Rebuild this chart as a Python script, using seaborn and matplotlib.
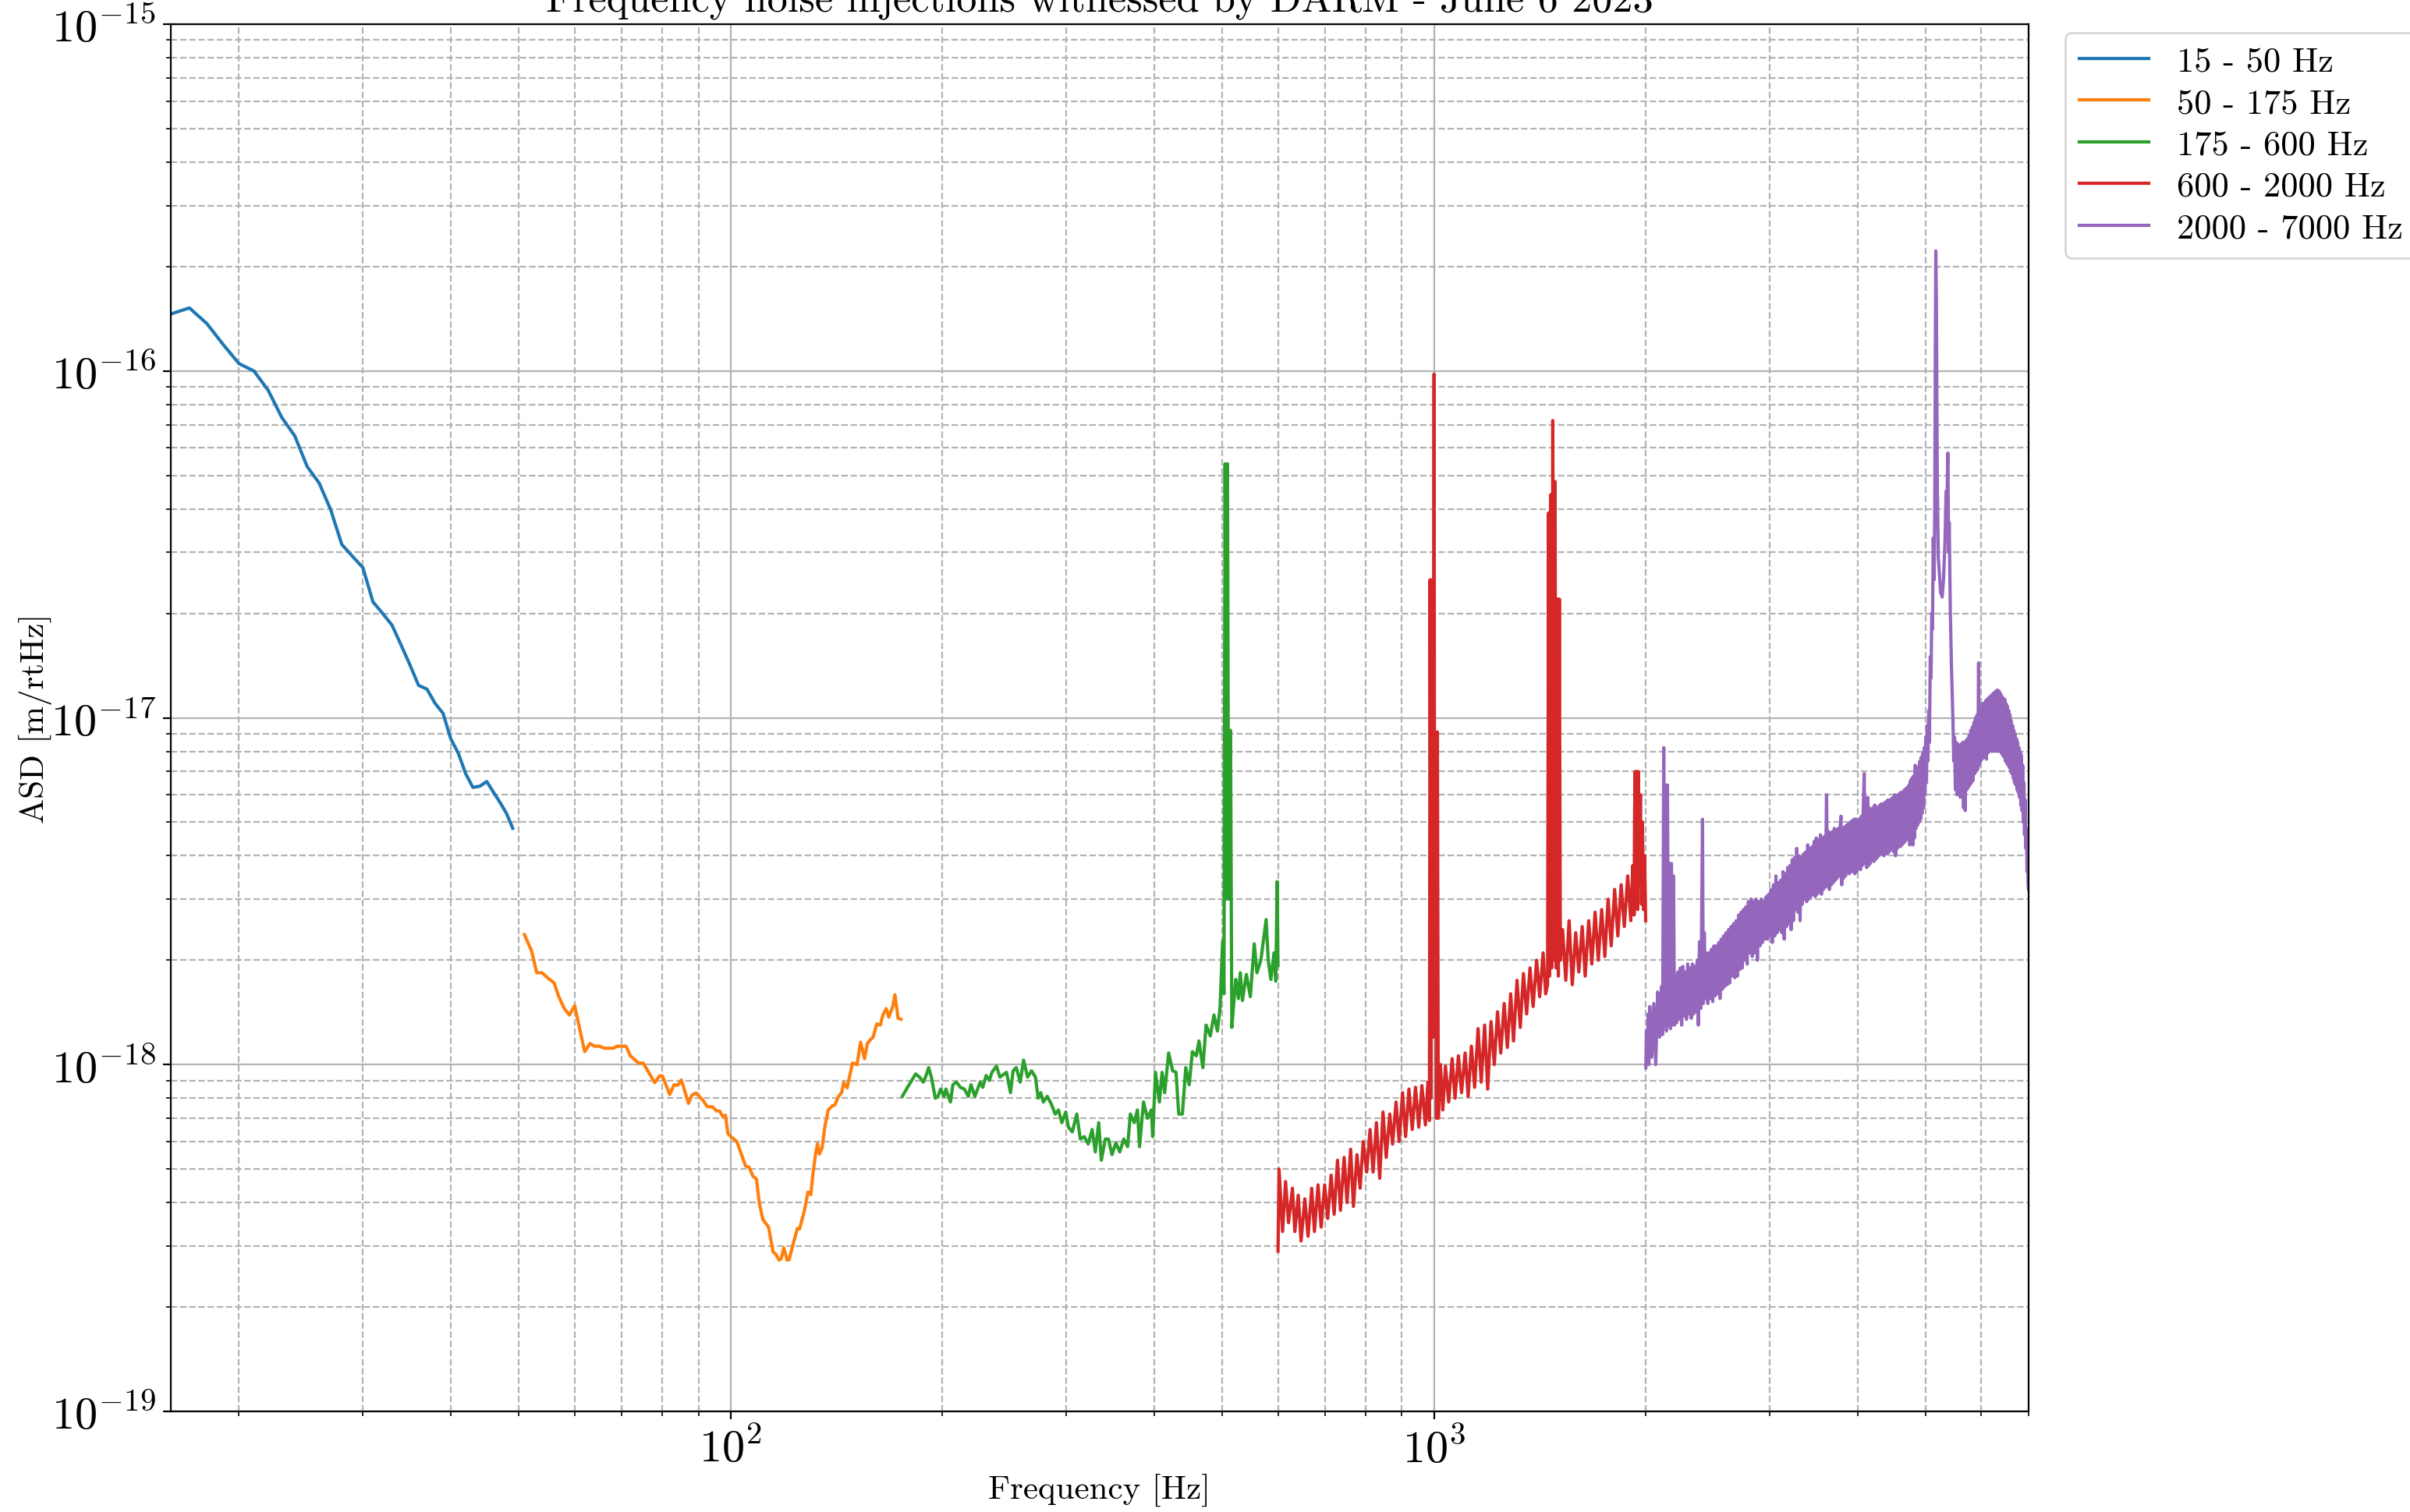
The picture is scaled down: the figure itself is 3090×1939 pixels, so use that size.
import pandas as pd
import seaborn as sns
import matplotlib.pyplot as plt

# === data ===
band_labels = ["15 - 50 Hz", "50 - 175 Hz", "175 - 600 Hz", "600 - 2000 Hz", "2000 - 7000 Hz"]

f_15_50 = [16, 17, 18, 19, 20, 21, 22, 23, 24, 25, 26, 27, 28, 29, 30, 31, 32,
           33, 34, 35, 36, 37, 38, 39, 40, 41, 42, 43, 44, 45, 46, 47, 48, 49]
asd_15_50 = [1.46e-16, 1.52e-16, 1.37e-16, 1.19e-16, 1.05e-16, 1.00e-16, 8.8e-17,
             7.35e-17, 6.5e-17, 5.3e-17, 4.75e-17, 3.98e-17, 3.16e-17, 2.92e-17,
             2.71e-17, 2.16e-17, 2.0e-17, 1.85e-17, 1.62e-17, 1.42e-17, 1.24e-17,
             1.21e-17, 1.1e-17, 1.03e-17, 8.7e-18, 7.9e-18, 6.9e-18, 6.3e-18,
             6.35e-18, 6.55e-18, 6.1e-18, 5.7e-18, 5.3e-18, 4.8e-18]

f_50_175 = [50.9, 52.1, 53.0, 53.9, 55.1, 56.1, 56.9, 58.0, 59.0, 60.0, 62.0, 63.1,
            64.0, 65.1, 66.1, 68.1, 69.0, 71.0, 72.0, 74.0, 75.1, 78.0, 79.2, 80.0,
            81.9, 83.1, 84.1, 85.1, 87.1, 88.1, 89.3, 91.4, 92.6, 94.3, 95.4, 96.5,
            97.4, 98.3, 99.1, 100.3, 102.0, 105.0, 106.2, 107.6, 108.8, 109.8, 111.1,
            112.1, 113.2, 114.9, 115.9, 117.2, 118.0, 119.0, 120.3, 121.1, 122.7,
            124.4, 125.3, 127.2, 128.8, 130.0, 130.9, 132.1, 132.9, 133.7, 134.9,
            136.1, 137.6, 139.5, 140.7, 142.2, 143.8, 144.8, 146.4, 149.0, 151.2,
            153.0, 155.0, 156.4, 158.0, 159.4, 161.3, 163.2, 164.6, 166.4, 167.8,
            170.0, 171.2, 173.0, 174.6]
asd_50_175 = [2.37e-18, 2.13e-18, 1.84e-18, 1.84e-18, 1.77e-18, 1.72e-18, 1.58e-18,
              1.45e-18, 1.39e-18, 1.48e-18, 1.09e-18, 1.15e-18, 1.13e-18, 1.13e-18,
              1.115e-18, 1.115e-18, 1.13e-18, 1.13e-18, 1.06e-18, 1.01e-18, 1.01e-18,
              8.87e-19, 9.27e-19, 9.27e-19, 8.2e-19, 8.75e-19, 8.72e-19, 9.03e-19,
              7.73e-19, 8.17e-19, 8.28e-19, 7.87e-19, 7.57e-19, 7.55e-19, 7.36e-19,
              7.34e-19, 7.09e-19, 7.15e-19, 6.33e-19, 6.17e-19, 6.01e-19, 5.1e-19,
              5.06e-19, 4.76e-19, 4.68e-19, 4.0e-19, 3.58e-19, 3.49e-19, 3.4e-19,
              2.88e-19, 2.84e-19, 2.73e-19, 2.76e-19, 2.96e-19, 2.73e-19, 2.74e-19,
              3.04e-19, 3.37e-19, 3.36e-19, 3.77e-19, 4.29e-19, 4.22e-19, 4.84e-19,
              5.56e-19, 5.91e-19, 5.52e-19, 5.76e-19, 6.61e-19, 7.4e-19, 7.6e-19,
              7.66e-19, 8.07e-19, 8.31e-19, 8.87e-19, 8.57e-19, 1.01e-18, 1.0e-18,
              1.16e-18, 1.04e-18, 1.15e-18, 1.18e-18, 1.2e-18, 1.31e-18, 1.3e-18,
              1.39e-18, 1.45e-18, 1.37e-18, 1.47e-18, 1.59e-18, 1.36e-18, 1.35e-18]

f_175_600 = [175.4, 178.4, 180.3, 183.2, 185.6, 187.9, 189.2, 191.2, 192.9, 195.4,
             197.1, 198.8, 201.1, 202.3, 204.0, 205.3, 207.0, 209.4, 212.1, 214.9,
             217.7, 219.6, 222.4, 226.3, 228.2, 230.8, 233.2, 235.2, 238.7, 241.4,
             246.7, 249.9, 252.1, 254.7, 258.0, 260.9, 264.3, 267.7, 271.2, 273.6,
             275.9, 278.3, 281.9, 285.6, 289.3, 292.4, 295.7, 299.5, 302.1, 306.0,
             310.5, 314.1, 318.2, 322.3, 326.5, 329.9, 333.6, 336.5, 340.9, 344.4,
             348.4, 352.9, 357.4, 362.1, 366.7, 370.0, 374.8, 378.7, 381.3, 386.3,
             391.3, 396.4, 398.1, 401.7, 406.9, 410.5, 414.0, 419.4, 424.9, 429.7,
             433.5, 438.7, 443.6, 448.6, 453.3, 459.2, 463.2, 469.2, 474.1, 480.7,
             486.5, 492.0, 496.3, 500.5, 502.7, 504.5, 506.5, 508.5, 510.5, 513.6,
             515.8, 520.3, 522.5, 527.0, 530.3, 534.0, 540.9, 548.0, 555.1, 560.0,
             567.2, 577.1, 581.1, 586.1, 592.2, 595.7, 598.3, 599.9]
asd_175_600 = [8.1e-19, 8.6e-19, 8.9e-19, 9.4e-19, 9.2e-19, 8.9e-19, 9.2e-19, 9.8e-19,
               9.2e-19, 8.0e-19, 8.1e-19, 8.5e-19, 8.1e-19, 8.5e-19, 8.1e-19, 7.8e-19,
               8.75e-19, 8.9e-19, 8.6e-19, 8.5e-19, 8.1e-19, 8.75e-19, 8.1e-19, 8.9e-19,
               8.6e-19, 9.3e-19, 9.0e-19, 9.5e-19, 9.9e-19, 9.2e-19, 9.5e-19, 8.3e-19,
               9.6e-19, 9.8e-19, 8.9e-19, 1.03e-18, 9.2e-19, 9.6e-19, 9.2e-19, 8.0e-19,
               8.3e-19, 7.8e-19, 8.1e-19, 7.7e-19, 7.2e-19, 7.4e-19, 6.8e-19, 7.3e-19,
               6.6e-19, 6.4e-19, 7.2e-19, 6.1e-19, 6.2e-19, 5.9e-19, 6.5e-19, 5.6e-19,
               6.8e-19, 5.3e-19, 6.1e-19, 6.1e-19, 5.5e-19, 5.95e-19, 5.6e-19, 6.1e-19,
               5.8e-19, 7.2e-19, 6.8e-19, 7.4e-19, 5.8e-19, 7.8e-19, 7.0e-19, 7.4e-19,
               6.2e-19, 9.5e-19, 7.8e-19, 9.5e-19, 8.3e-19, 1.08e-18, 9.6e-19, 9.5e-19,
               7.2e-19, 7.2e-19, 9.8e-19, 8.75e-19, 1.09e-18, 1.06e-18, 1.17e-18,
               9.8e-19, 1.3e-18, 1.21e-18, 1.39e-18, 1.25e-18, 1.46e-18, 2.27e-18,
               1.6e-18, 5.4e-17, 3.0e-18, 5.4e-17, 3.0e-18, 9.2e-18, 1.28e-18, 1.6e-18,
               1.76e-18, 1.55e-18, 1.84e-18, 1.53e-18, 1.82e-18, 1.57e-18, 2.23e-18,
               1.84e-18, 2.0e-18, 2.62e-18, 2.0e-18, 1.76e-18, 2.1e-18, 1.74e-18,
               3.37e-18, 1.93e-18]

f_600_2000 = [600, 602, 609, 615, 621, 629, 634, 641, 647, 655, 662, 670, 676, 684, 691,
              699, 706, 714, 721, 729, 736, 745, 752, 761, 768, 777, 785, 793, 802, 811,
              819, 828, 837, 846, 855, 865, 873, 883, 892, 902, 911, 921, 931, 941, 951,
              961, 972, 980, 985, 987, 990, 994, 997, 1000, 1002, 1005, 1008, 1011, 1014,
              1021, 1029, 1038, 1049, 1061, 1071, 1083, 1094, 1107, 1118, 1130, 1142,
              1155, 1167, 1180, 1192, 1205, 1218, 1231, 1244, 1258, 1271, 1285, 1297,
              1312, 1326, 1340, 1354, 1369, 1383, 1399, 1413, 1429, 1441, 1450, 1455,
              1460, 1466, 1470, 1475, 1480, 1486, 1491, 1497, 1502, 1507, 1512, 1523,
              1539, 1556, 1572, 1590, 1606, 1624, 1640, 1659, 1676, 1694, 1712, 1731,
              1749, 1768, 1786, 1806, 1825, 1845, 1864, 1885, 1904, 1917, 1925, 1928,
              1932, 1937, 1942, 1947, 1952, 1958, 1965, 1972, 1978, 1985, 1992, 1999]
asd_600_2000 = [2.9e-19, 5.0e-19, 3.3e-19, 4.6e-19, 3.5e-19, 4.4e-19, 3.3e-19, 4.2e-19,
                3.1e-19, 4.1e-19, 3.2e-19, 4.4e-19, 3.3e-19, 4.5e-19, 3.4e-19, 4.5e-19,
                3.6e-19, 4.8e-19, 3.7e-19, 5.3e-19, 3.8e-19, 5.4e-19, 4.0e-19, 5.7e-19,
                3.9e-19, 5.5e-19, 4.4e-19, 6.0e-19, 4.9e-19, 6.5e-19, 4.9e-19, 6.8e-19,
                4.7e-19, 7.3e-19, 5.4e-19, 7.2e-19, 5.9e-19, 7.8e-19, 6.0e-19, 8.3e-19,
                6.2e-19, 8.5e-19, 6.5e-19, 8.6e-19, 6.6e-19, 8.7e-19, 6.7e-19, 8.9e-19,
                6.9e-19, 2.5e-17, 8.0e-19, 2.5e-17, 1.2e-18, 9.8e-17, 1.4e-18, 9.1e-18,
                7.0e-19, 9.1e-18, 7.0e-19, 1.0e-18, 7.4e-19, 9.9e-19, 7.8e-19, 1.04e-18,
                8.0e-19, 1.06e-18, 8.3e-19, 1.08e-18, 8.1e-19, 1.13e-18, 8.6e-19,
                1.27e-18, 8.9e-19, 1.3e-18, 8.5e-19, 1.33e-18, 1.0e-18, 1.42e-18,
                1.08e-18, 1.5e-18, 1.12e-18, 1.6e-18, 1.17e-18, 1.75e-18, 1.28e-18,
                1.83e-18, 1.4e-18, 1.9e-18, 1.47e-18, 2.0e-18, 1.57e-18, 2.1e-18, 1.6e-18,
                1.7e-18, 3.9e-17, 1.8e-18, 4.4e-17, 1.9e-18, 7.2e-17, 2.0e-18, 4.8e-17,
                1.9e-18, 2.2e-17, 1.8e-18, 2.2e-17, 2.0e-18, 2.45e-18, 1.75e-18, 2.6e-18,
                1.7e-18, 2.4e-18, 1.85e-18, 2.5e-18, 1.8e-18, 2.6e-18, 1.95e-18, 2.75e-18,
                2.0e-18, 2.8e-18, 2.05e-18, 3.0e-18, 2.2e-18, 3.2e-18, 2.35e-18, 3.3e-18,
                2.5e-18, 3.5e-18, 2.6e-18, 3.75e-18, 2.7e-18, 5.3e-18, 7.0e-18, 3.0e-18,
                7.0e-18, 2.8e-18, 7.0e-18, 3.3e-18, 6.0e-18, 2.9e-18, 5.0e-18, 2.8e-18,
                4.0e-18, 2.6e-18]

f_2000_7000 = [2000, 2004, 2010, 2016, 2020, 2026, 2039, 2053, 2066, 2079, 2093, 2106,
               2113, 2121, 2127, 2134, 2140, 2147, 2154, 2162, 2168, 2175, 2182, 2190,
               2197, 2204, 2213, 2222, 2231, 2240, 2249, 2258, 2267, 2276, 2285, 2294,
               2303, 2312, 2321, 2330, 2339, 2348, 2357, 2366, 2375, 2384, 2393, 2400,
               2408, 2414, 2422, 2431, 2440, 2450, 2460, 2470, 2480, 2490, 2500, 2510,
               2520, 2530, 2540, 2550, 2560, 2570, 2580, 2590, 2600, 2611, 2622, 2633,
               2644, 2655, 2666, 2677, 2688, 2699, 2710, 2721, 2732, 2743, 2754, 2765,
               2776, 2787, 2798, 2810, 2822, 2834, 2846, 2858, 2870, 2882, 2894, 2906,
               2918, 2930, 2942, 2954, 2966, 2978, 2990, 3002, 3014, 3026, 3038, 3050,
               3062, 3074, 3086, 3098, 3110, 3122, 3134, 3146, 3158, 3170, 3182, 3194,
               3206, 3218, 3230, 3242, 3254, 3266, 3278, 3290, 3302, 3314, 3326, 3338,
               3350, 3362, 3374, 3386, 3398, 3410, 3422, 3434, 3446, 3458, 3470, 3482,
               3494, 3506, 3518, 3530, 3542, 3554, 3566, 3578, 3590, 3602, 3614, 3624,
               3636, 3648, 3660, 3672, 3684, 3696, 3708, 3720, 3732, 3744, 3756, 3768,
               3780, 3789, 3798, 3810, 3822, 3834, 3846, 3858, 3870, 3882, 3894, 3906,
               3918, 3930, 3942, 3954, 3966, 3978, 3990, 4002, 4014, 4026, 4038, 4050,
               4062, 4074, 4088, 4098, 4110, 4122, 4134, 4146, 4158, 4170, 4182, 4194,
               4206, 4218, 4230, 4242, 4254, 4266, 4278, 4290, 4302, 4314, 4326, 4338,
               4350, 4362, 4374, 4386, 4398, 4410, 4422, 4434, 4446, 4458, 4470, 4482,
               4494, 4506, 4518, 4530, 4542, 4554, 4566, 4578, 4590, 4602, 4614, 4626,
               4638, 4650, 4662, 4674, 4686, 4698, 4710, 4722, 4734, 4746, 4758, 4770,
               4782, 4794, 4806, 4818, 4832, 4844, 4856, 4868, 4880, 4892, 4904, 4916,
               4928, 4940, 4952, 4964, 4976, 4988, 5000, 5012, 5025, 5037, 5050, 5062,
               5075, 5088, 5100, 5112, 5125, 5140, 5150, 5160, 5168, 5178, 5193, 5210,
               5225, 5250, 5277, 5300, 5325, 5345, 5358, 5376, 5390, 5400, 5420, 5440,
               5467, 5480, 5495, 5510, 5525, 5540, 5555, 5570, 5585, 5600, 5615, 5630,
               5645, 5660, 5675, 5690, 5705, 5720, 5735, 5750, 5765, 5780, 5795, 5810,
               5825, 5840, 5855, 5870, 5885, 5900, 5915, 5930, 5945, 5958, 5972, 5986,
               6000, 6014, 6028, 6042, 6056, 6070, 6084, 6098, 6112, 6126, 6140, 6154,
               6168, 6182, 6196, 6210, 6224, 6238, 6252, 6266, 6280, 6294, 6308, 6322,
               6336, 6350, 6364, 6378, 6392, 6406, 6420, 6434, 6448, 6462, 6476, 6490,
               6504, 6518, 6532, 6546, 6560, 6574, 6588, 6602, 6616, 6630, 6644, 6658,
               6672, 6686, 6700, 6714, 6728, 6742, 6756, 6770, 6784, 6798, 6812, 6826,
               6840, 6854, 6868, 6882, 6896, 6910, 6924, 6938, 6952, 6966, 6980, 6990,
               7000]
asd_2000_7000 = [9.8e-19, 1.25e-18, 1.05e-18, 1.4e-18, 1.0e-18, 1.47e-18, 1.05e-18,
                 1.5e-18, 1.0e-18, 1.62e-18, 1.2e-18, 1.68e-18, 1.22e-18, 8.2e-18,
                 1.3e-18, 6.4e-18, 1.25e-18, 6.4e-18, 1.3e-18, 3.8e-18, 1.27e-18, 3.8e-18,
                 1.3e-18, 3.5e-18, 1.3e-18, 1.8e-18, 1.32e-18, 1.85e-18, 1.35e-18, 1.9e-18,
                 1.3e-18, 1.92e-18, 1.38e-18, 1.85e-18, 1.35e-18, 1.95e-18, 1.4e-18,
                 1.9e-18, 1.36e-18, 1.95e-18, 1.4e-18, 1.92e-18, 1.42e-18, 2.0e-18,
                 1.3e-18, 2.26e-18, 1.45e-18, 2.3e-18, 5.1e-18, 1.5e-18, 2.4e-18,
                 1.55e-18, 2.1e-18, 1.5e-18, 2.1e-18, 1.55e-18, 2.15e-18, 1.52e-18,
                 2.2e-18, 1.58e-18, 2.2e-18, 1.6e-18, 2.25e-18, 1.55e-18, 2.3e-18,
                 1.65e-18, 2.35e-18, 1.68e-18, 2.4e-18, 1.7e-18, 2.45e-18, 1.72e-18,
                 2.5e-18, 1.8e-18, 2.55e-18, 1.78e-18, 2.6e-18, 1.8e-18, 2.7e-18, 1.88e-18,
                 2.75e-18, 1.9e-18, 2.8e-18, 2.0e-18, 2.85e-18, 1.95e-18, 2.95e-18, 2.1e-18,
                 3.0e-18, 2.05e-18, 2.95e-18, 2.1e-18, 3.0e-18, 2.0e-18, 2.95e-18, 2.2e-18,
                 3.0e-18, 2.25e-18, 2.95e-18, 2.3e-18, 3.05e-18, 2.3e-18, 3.1e-18,
                 2.35e-18, 3.2e-18, 2.25e-18, 3.3e-18, 2.35e-18, 3.5e-18, 2.4e-18,
                 3.35e-18, 2.45e-18, 3.4e-18, 2.4e-18, 3.6e-18, 2.3e-18, 3.55e-18, 2.5e-18,
                 3.7e-18, 2.55e-18, 3.75e-18, 2.45e-18, 3.9e-18, 2.6e-18, 3.95e-18, 2.8e-18,
                 4.2e-18, 2.75e-18, 4.0e-18, 2.6e-18, 3.95e-18, 2.9e-18, 4.05e-18, 3.0e-18,
                 4.1e-18, 2.95e-18, 4.3e-18, 3.0e-18, 4.2e-18, 3.05e-18, 4.25e-18, 3.1e-18,
                 4.4e-18, 3.05e-18, 4.5e-18, 3.1e-18, 4.45e-18, 3.15e-18, 4.6e-18, 3.1e-18,
                 4.5e-18, 3.2e-18, 4.55e-18, 3.25e-18, 6.0e-18, 3.3e-18, 4.7e-18, 3.2e-18,
                 4.65e-18, 3.3e-18, 4.7e-18, 3.35e-18, 4.8e-18, 3.4e-18, 4.75e-18,
                 3.45e-18, 4.8e-18, 3.5e-18, 4.85e-18, 5.2e-18, 3.3e-18, 4.8e-18, 3.45e-18,
                 4.85e-18, 3.5e-18, 4.9e-18, 3.6e-18, 4.95e-18, 3.55e-18, 5.0e-18, 3.6e-18,
                 5.05e-18, 3.6e-18, 5.1e-18, 3.55e-18, 5.1e-18, 3.6e-18, 5.05e-18, 3.7e-18,
                 5.1e-18, 3.65e-18, 5.2e-18, 3.75e-18, 5.3e-18, 6.9e-18, 3.8e-18, 5.6e-18,
                 3.7e-18, 5.9e-18, 3.75e-18, 5.5e-18, 3.8e-18, 5.3e-18, 3.9e-18, 5.5e-18,
                 3.85e-18, 5.6e-18, 3.9e-18, 5.55e-18, 3.95e-18, 5.5e-18, 4.0e-18, 5.6e-18,
                 4.05e-18, 5.65e-18, 4.1e-18, 5.6e-18, 4.0e-18, 5.7e-18, 4.1e-18, 5.75e-18,
                 4.05e-18, 5.8e-18, 4.1e-18, 5.75e-18, 4.15e-18, 5.85e-18, 4.2e-18,
                 5.9e-18, 4.1e-18, 6.0e-18, 4.0e-18, 5.95e-18, 4.2e-18, 6.0e-18, 4.3e-18,
                 6.05e-18, 4.25e-18, 6.1e-18, 4.3e-18, 6.1e-18, 4.35e-18, 6.2e-18, 4.4e-18,
                 6.25e-18, 4.5e-18, 6.3e-18, 4.45e-18, 6.4e-18, 4.3e-18, 6.6e-18, 4.4e-18,
                 6.7e-18, 4.3e-18, 6.8e-18, 4.5e-18, 7.3e-18, 4.8e-18, 7.0e-18, 4.9e-18,
                 7.2e-18, 5.0e-18, 7.5e-18, 5.1e-18, 7.7e-18, 5.3e-18, 7.9e-18, 5.5e-18,
                 8.2e-18, 6.0e-18, 8.8e-18, 6.5e-18, 9.5e-18, 7.5e-18, 1.05e-17, 8.5e-18,
                 1.5e-17, 1.3e-17, 2.0e-17, 1.8e-17, 3.3e-17, 2.5e-17, 4.0e-17, 1.2e-16,
                 2.22e-16, 1.6e-16, 4.9e-17, 2.9e-17, 2.67e-17, 2.3e-17, 2.23e-17, 2.5e-17,
                 3.2e-17, 4.5e-17, 3.98e-17, 5.8e-17, 3.0e-17, 3.65e-17, 2.0e-17, 1.4e-17,
                 9.7e-18, 7.5e-18, 8.8e-18, 6.2e-18, 8.5e-18, 6.0e-18, 8.4e-18, 6.1e-18,
                 8.3e-18, 5.9e-18, 8.4e-18, 6.0e-18, 8.5e-18, 5.5e-18, 8.4e-18, 5.4e-18,
                 8.6e-18, 6.2e-18, 8.7e-18, 6.3e-18, 8.9e-18, 6.4e-18, 9.2e-18, 6.5e-18,
                 9.4e-18, 6.6e-18, 9.7e-18, 6.9e-18, 1.0e-17, 7.0e-18, 1.02e-17, 7.1e-18,
                 1.44e-17, 7.3e-18, 1.05e-17, 7.5e-18, 1.08e-17, 7.6e-18, 1.1e-17, 7.7e-18,
                 1.1e-17, 7.8e-18, 1.12e-17, 7.6e-18, 1.13e-17, 7.9e-18, 1.14e-17, 8.0e-18,
                 1.15e-17, 8.1e-18, 1.16e-17, 8.0e-18, 1.17e-17, 8.1e-18, 1.18e-17,
                 8.0e-18, 1.19e-17, 8.2e-18, 1.2e-17, 8.0e-18, 1.2e-17, 8.1e-18, 1.19e-17,
                 8.0e-18, 1.17e-17, 7.9e-18, 1.15e-17, 7.8e-18, 1.14e-17, 7.7e-18,
                 1.13e-17, 7.5e-18, 1.1e-17, 7.4e-18, 1.08e-17, 7.3e-18, 1.05e-17, 7.2e-18,
                 1.02e-17, 7.0e-18, 9.8e-18, 6.9e-18, 9.5e-18, 6.7e-18, 9.2e-18, 6.5e-18,
                 9.0e-18, 6.4e-18, 8.7e-18, 6.2e-18, 8.5e-18, 6.1e-18, 8.2e-18, 5.9e-18,
                 8.0e-18, 5.6e-18, 7.8e-18, 5.4e-18, 7.3e-18, 5.0e-18, 6.5e-18, 4.6e-18,
                 5.8e-18, 4.2e-18, 4.8e-18, 3.6e-18, 4.0e-18, 3.3e-18, 3.2e-18]

# === build long-form table ===
band_freqs = [f_15_50, f_50_175, f_175_600, f_600_2000, f_2000_7000]
band_asds = [asd_15_50, asd_50_175, asd_175_600, asd_600_2000, asd_2000_7000]

frames = []
for label, f, a in zip(band_labels, band_freqs, band_asds):
    frames.append(pd.DataFrame({"freq": f, "asd": a, "band": label}))
df = pd.concat(frames, ignore_index=True)

# === style ===
plt.rcParams["font.family"] = ["cmr10"]
plt.rcParams["mathtext.fontset"] = "cm"
plt.rcParams["axes.formatter.use_mathtext"] = True
plt.rcParams["axes.unicode_minus"] = False

fig, ax = plt.subplots(figsize=(15.45, 9.7), dpi=200)
fig.subplots_adjust(left=0.0709, right=0.8417, bottom=0.0665, top=0.9835)

sns.lineplot(data=df, x="freq", y="asd", hue="band", hue_order=band_labels,
             palette=sns.color_palette("tab10", 5), estimator=None, sort=False,
             linewidth=1.5, ax=ax)

ax.set_xscale("log")
ax.set_yscale("log")
ax.set_xlim(16, 7000)
ax.set_ylim(1e-19, 1e-15)
ax.grid(True, which="major", ls="-", color="0.7", lw=0.8)
ax.grid(True, which="minor", ls="--", color="0.7", lw=0.8)

ax.set_title("Frequency noise injections witnessed by DARM - June 6 2023", fontsize=18.8)
ax.set_xlabel("Frequency [Hz]", fontsize=15.5, labelpad=1)
ax.set_ylabel("ASD [m/rtHz]", fontsize=15.5)
ax.yaxis.set_label_coords(-0.064, 0.5)
ax.tick_params(labelsize=21)
ax.legend(loc="upper left", bbox_to_anchor=(1.02, 0.994), borderaxespad=0,
          fontsize=16, labelspacing=0.3)

fig.savefig("out.png", dpi=200)
